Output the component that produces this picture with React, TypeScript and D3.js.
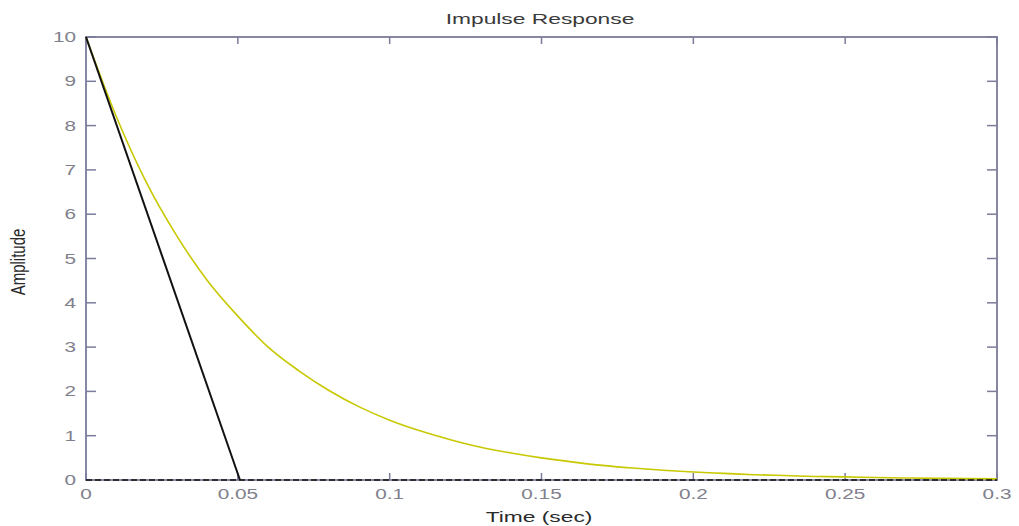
import React from "react";
import * as d3 from "d3";

const W = 1019;
const H = 526;

const titleText = "Impulse Response";
const xLabelText = "Time (sec)";
const yLabelText = "Amplitude";

const xTicks = [0, 0.05, 0.1, 0.15, 0.2, 0.25, 0.3];
const xTickLabels = ["0", "0.05", "0.1", "0.15", "0.2", "0.25", "0.3"];
const yTicks = [0, 1, 2, 3, 4, 5, 6, 7, 8, 9, 10];
const yTickLabels = ["0", "1", "2", "3", "4", "5", "6", "7", "8", "9", "10"];

// yellow response
const yellowT = [0, 0.01, 0.02, 0.03, 0.04, 0.05, 0.06, 0.07, 0.08, 0.09, 0.1, 0.11, 0.12, 0.13, 0.14, 0.15, 0.16, 0.17, 0.18, 0.19, 0.2, 0.21, 0.22, 0.23, 0.24, 0.25, 0.26, 0.27, 0.28, 0.29, 0.3];
const yellowY = [10, 8.2, 6.7, 5.5, 4.5, 3.7, 3.0, 2.47, 2.02, 1.65, 1.35, 1.11, 0.91, 0.74, 0.61, 0.5, 0.41, 0.33, 0.27, 0.22, 0.18, 0.15, 0.12, 0.1, 0.08, 0.07, 0.055, 0.045, 0.037, 0.03, 0.025];

// black response
const blackT = [0, 0.0507];
const blackY = [10, 0];

// zero line
const zeroT = [0, 0.3];
const zeroY = [0, 0];

const M = { left: 86, right: 997, top: 37, bottom: 480 };
const FONT = "'Liberation Sans', Arial, Helvetica, sans-serif";
const FRAME = "#7b7b9b";
const TICKCOL = "#80808c";

export default function App() {
  const x = d3.scaleLinear().domain([0, 0.3]).range([M.left, M.right]);
  const y = d3.scaleLinear().domain([0, 10]).range([M.bottom, M.top]);

  const line = d3
    .line<[number, number]>()
    .x((d) => x(d[0]))
    .y((d) => y(d[1]));
  const smooth = d3
    .line<[number, number]>()
    .x((d) => x(d[0]))
    .y((d) => y(d[1]))
    .curve(d3.curveMonotoneX);

  const yellowData = yellowT.map((t, i) => [t, yellowY[i]] as [number, number]);
  const blackData = blackT.map((t, i) => [t, blackY[i]] as [number, number]);
  const zeroData = zeroT.map((t, i) => [t, zeroY[i]] as [number, number]);

  return (
    <svg
      width={W}
      height={H}
      style={{ position: "absolute", left: 0, top: 0, background: "#fff" }}
      fontFamily={FONT}
    >
      <rect x={0} y={0} width={W} height={H} fill="#fff" />
      {/* ticks */}
      {xTicks.map((t, i) => (
        <g key={"xt" + i}>
          <line x1={x(t)} x2={x(t)} y1={M.bottom} y2={M.bottom - 7} stroke={FRAME} strokeWidth={1.5} />
          <line x1={x(t)} x2={x(t)} y1={M.top} y2={M.top + 7} stroke={FRAME} strokeWidth={1.5} />
          <text
            transform={`translate(${x(t)},${499}) scale(1.43,1)`}
            textAnchor="middle"
            fontSize={14.5}
            fill={TICKCOL}
          >
            {xTickLabels[i]}
          </text>
        </g>
      ))}
      {yTicks.map((t, i) => (
        <g key={"yt" + i}>
          <line x1={M.left} x2={M.left + 10} y1={y(t)} y2={y(t)} stroke={FRAME} strokeWidth={1.5} />
          <line x1={M.right} x2={M.right - 10} y1={y(t)} y2={y(t)} stroke={FRAME} strokeWidth={1.5} />
          <text
            transform={`translate(${76},${y(t) + 5}) scale(1.43,1)`}
            textAnchor="end"
            fontSize={14.5}
            fill={TICKCOL}
          >
            {yTickLabels[i]}
          </text>
        </g>
      ))}
      {/* frame */}
      <rect
        x={M.left}
        y={M.top}
        width={M.right - M.left}
        height={M.bottom - M.top}
        fill="none"
        stroke={FRAME}
        strokeWidth={1.8}
      />
      {/* curves */}
      <path d={smooth(yellowData) || ""} fill="none" stroke="#c8c800" strokeWidth={1.6} />
      <path d={line(blackData) || ""} fill="none" stroke="#111" strokeWidth={2} />
      <path d={line(zeroData) || ""} fill="none" stroke="#111" strokeWidth={1.5} strokeDasharray="6,3" />
      {/* labels */}
      <text
        transform={`translate(${540},${24}) scale(1.52,1)`}
        textAnchor="middle"
        fontSize={15}
        fill="#3a3a3a"
      >
        {titleText}
      </text>
      <text
        transform={`translate(${539},${522}) scale(1.52,1)`}
        textAnchor="middle"
        fontSize={15}
        fill="#2a2a2a"
      >
        {xLabelText}
      </text>
      <text
        transform={`translate(${25},${262}) scale(1.4,1) rotate(-90)`}
        textAnchor="middle"
        fontSize={15}
        fill="#2a2a2a"
      >
        {yLabelText}
      </text>
    </svg>
  );
}
